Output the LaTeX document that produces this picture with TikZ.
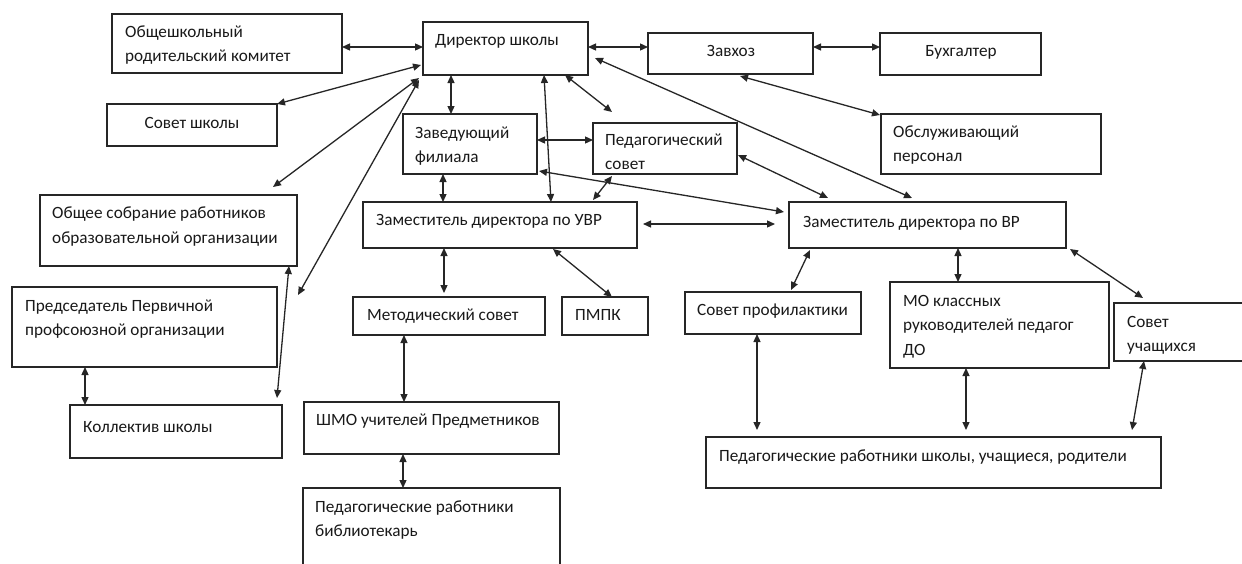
\documentclass[tikz,border=0pt]{standalone}
\usepackage{fontspec}
\setmainfont{Carlito}
\usetikzlibrary{arrows.meta,calc}
\tikzset{
  box/.style={draw=black!85, line width=1.4pt, anchor=north west, inner sep=0pt, outer sep=0pt},
  txt/.style={anchor=base west, inner sep=0pt, align=left, font=\fontsize{17.2}{24.5}\selectfont, text=black!90},
  ctxt/.style={txt, anchor=base},
  con/.style={draw=black!85, line width=1.3pt, {Triangle[length=8pt,width=7pt]}-{Triangle[length=8pt,width=7pt]}},
}
\newcommand\bx[5]{\node[box, minimum width=#4pt-#2pt, minimum height=#5pt-#3pt] (#1) at (#2,#3) {};}
\begin{document}
\begin{tikzpicture}[x=1pt,y=-1pt]
\useasboundingbox (0,0) rectangle (1242,563);
\clip (0,0) rectangle (1242,563);
\fill[white] (0,0) rectangle (1242,563);
% boxes
\bx{obsh}{112}{14}{342}{73}
\bx{dir}{423}{22}{588}{75}
\bx{zavhoz}{648}{33}{813}{74}
\bx{buh}{880}{33}{1041}{75}
\bx{sovsh}{107}{104}{277}{146}
\bx{zavf}{403}{114}{537}{174}
\bx{pedsov}{593}{123}{737}{174}
\bx{obsl}{881}{114}{1101}{174}
\bx{obsch}{40}{195}{297}{266}
\bx{uvr}{363}{202}{637}{248}
\bx{vr}{789}{202}{1066}{248}
\bx{pred}{12}{287}{277}{367}
\bx{met}{353}{297}{545}{335}
\bx{pmpk}{562}{297}{648}{335}
\bx{prof}{685}{292}{861}{334}
\bx{mo}{890}{282}{1109}{368}
\bx{uch}{1114}{303}{1262}{361}
\bx{koll}{70}{405}{282}{458}
\bx{shmo}{304}{402}{559}{454}
\bx{bib}{303}{488}{560}{600}
\bx{bottom}{706}{437}{1161}{488}
% texts (base anchor = baseline of the last line)
\node[txt] (tobsh) at (125,61.5) {Общешкольный\\родительский комитет};
\node[txt] (tdir) at (435,45) {Директор школы};
\node[ctxt] (tzavhoz) at (731,56) {Завхоз};
\node[ctxt] (tbuh) at (961,56) {Бухгалтер};
\node[ctxt] (tsovsh) at (192,128) {Совет школы};
\node[txt] (tzavf) at (415,162.5) {Заведующий\\филиала};
\node[txt] (tpedsov) at (605,169.5) {Педагогический\\совет};
\node[txt] (tobsl) at (893,161.5) {Обслуживающий\\персонал};
\node[txt] (tobsch) at (52,243) {Общее собрание работников\\образовательной организации};
\node[txt] (tuvr) at (376,225) {Заместитель директора по УВР};
\node[txt] (tvr) at (803,227) {Заместитель директора по ВР};
\node[txt] (tpred) at (25,335.5) {Председатель Первичной\\профсоюзной организации};
\node[txt] (tmet) at (367,320) {Методический совет};
\node[txt] (tpmpk) at (575,320) {ПМПК};
\node[txt] (tprof) at (697,315) {Совет профилактики};
\node[txt] (tmo) at (903,355) {МО классных\\руководителей педагог\\ДО};
\node[txt] (tuch) at (1127,351.5) {Совет\\учащихся};
\node[txt] (tkoll) at (83,432) {Коллектив школы};
\node[txt] (tshmo) at (316,425) {ШМО учителей Предметников};
\node[txt] (tbib) at (315,536.5) {Педагогические работники\\библиотекарь};
\node[txt] (tbottom) at (719,461) {Педагогические работники школы, учащиеся, родители};
% free end
\coordinate (predend) at ($(pred.north east)+(21,8)$);
% connectors
\draw[con] ($(obsh.north east)+(0,33)$) -- ($(dir.north west)+(0,25)$);
\draw[con] (sovsh.north east) -- ($(dir.north west)+(-2,43)$);
\draw[con] ($(obsch.north west)+(233,-8)$) -- ($(dir.north west)+(-4,56)$);
\draw[con] (predend) -- ($(dir.north west)+(-4,58)$);
\draw[con] ($(dir.south west)+(28,0)$) -- ($(zavf.north west)+(48,0)$);
\draw[con] ($(dir.south west)+(121,0)$) -- ($(uvr.north west)+(188,0)$);
\draw[con] ($(dir.south west)+(142,0)$) -- ($(pedsov.north west)+(19,-11)$);
\draw[con] ($(dir.north east)+(0,25)$) -- ($(zavhoz.north west)+(0,14)$);
\draw[con] ($(dir.north east)+(7,36)$) -- ($(vr.north west)+(123,-4)$);
\draw[con] ($(zavhoz.north east)+(0,14)$) -- ($(buh.north west)+(0,14)$);
\draw[con] ($(zavhoz.south west)+(92,2)$) -- ($(obsl.north west)+(-1,1)$);
\draw[con] ($(zavf.north east)+(0,26)$) -- ($(pedsov.north west)+(0,17)$);
\draw[con] ($(zavf.north east)+(2,57)$) -- ($(vr.north west)+(-5,10)$);
\draw[con] ($(pedsov.north east)+(1,32)$) -- ($(vr.north west)+(39,-4)$);
\draw[con] ($(zavf.south west)+(40,0)$) -- ($(uvr.north west)+(80,0)$);
\draw[con] ($(pedsov.south west)+(19,2)$) -- ($(uvr.north west)+(230,-2)$);
\draw[con] ($(uvr.north east)+(6,22)$) -- ($(vr.north west)+(-14,22)$);
\draw[con] ($(uvr.south west)+(81,0)$) -- ($(met.north west)+(91,-4)$);
\draw[con] ($(uvr.south west)+(190,1)$) -- ($(pmpk.north west)+(50,0)$);
\draw[con] ($(met.south west)+(51,0)$) -- ($(shmo.north west)+(100,0)$);
\draw[con] ($(shmo.south west)+(99,0)$) -- ($(bib.north west)+(100,0)$);
\draw[con] ($(vr.south west)+(21,2)$) -- ($(prof.north west)+(106,-2)$);
\draw[con] ($(vr.south west)+(169,0)$) -- ($(mo.north west)+(68,0)$);
\draw[con] ($(vr.south east)+(4,1)$) -- ($(uch.north west)+(29,-5)$);
\draw[con] ($(prof.south west)+(72,0)$) -- ($(bottom.north west)+(51,-7)$);
\draw[con] ($(mo.south west)+(76,0)$) -- ($(bottom.north west)+(260,-7)$);
\draw[con] ($(uch.south west)+(30,0)$) -- ($(bottom.north west)+(426,-7)$);
\draw[con] ($(pred.south west)+(73,0)$) -- ($(koll.north west)+(15,0)$);
\draw[con] ($(obsch.south west)+(249,0)$) -- ($(koll.north east)+(-5,-7)$);
\end{tikzpicture}
\end{document}
